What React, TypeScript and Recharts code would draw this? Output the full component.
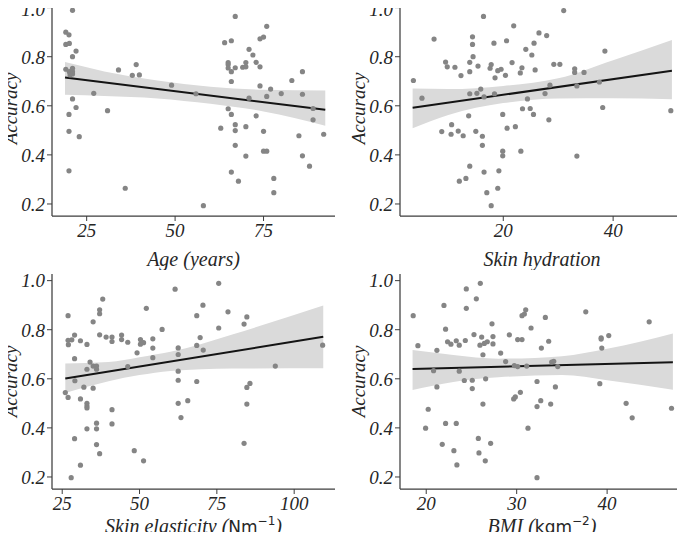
import React from 'react';
import { Area, ComposedChart, Line, Scatter, XAxis, YAxis } from 'recharts';

type Pt = [number, number];

// shared y axis
const accuracyTicks = [0.2, 0.4, 0.6, 0.8, 1.0];
const accuracyDomain: [number, number] = [0.151, 1.027];

// Age (years)
const agePoints: Pt[] = [
  [19.1, 0.9], [20.0, 0.889], [19.1, 0.85], [20.1, 0.854], [21.0, 0.989], [22.0, 0.823], [21.0, 0.8],
  [19.1, 0.749], [20.1, 0.739], [21.0, 0.753], [21.0, 0.739], [21.0, 0.73], [20.3, 0.726], [21.0, 0.628],
  [22.0, 0.593], [20.0, 0.565], [20.0, 0.496], [22.9, 0.474], [20.0, 0.335], [27.0, 0.651], [30.9, 0.58],
  [34.0, 0.746], [35.9, 0.264], [37.9, 0.724], [39.0, 0.768], [39.9, 0.726], [49.0, 0.684], [55.9, 0.649],
  [58.0, 0.193], [62.9, 0.509], [64.0, 0.857], [65.0, 0.776], [65.0, 0.768], [65.0, 0.754], [65.0, 0.588],
  [65.9, 0.865], [65.9, 0.739], [65.9, 0.699], [65.9, 0.565], [65.9, 0.33], [67.0, 0.964], [67.0, 0.755],
  [67.0, 0.523], [67.0, 0.499], [67.0, 0.439], [67.9, 0.293], [69.1, 0.757], [70.0, 0.759], [70.0, 0.776],
  [70.0, 0.515], [70.0, 0.395], [70.9, 0.83], [70.9, 0.631], [72.0, 0.807], [72.9, 0.777], [72.9, 0.559],
  [74.0, 0.873], [74.0, 0.759], [74.0, 0.681], [75.0, 0.88], [75.0, 0.496], [75.0, 0.415], [75.9, 0.924],
  [75.9, 0.638], [75.9, 0.415], [77.0, 0.668], [77.9, 0.304], [77.9, 0.246], [80.0, 0.65], [83.0, 0.703],
  [85.0, 0.478], [86.0, 0.739], [86.0, 0.647], [86.0, 0.396], [88.0, 0.354], [89.0, 0.589], [89.0, 0.543],
  [92.0, 0.484],
];
const ageTicks = [25, 50, 75];
const ageFit: Pt[] = [[18.87, 0.715], [92.45, 0.584]];
const ageBandX = [18.87, 30, 45, 60, 75, 92.45];
const ageBandLo = [0.645, 0.64, 0.63, 0.608, 0.577, 0.519];
const ageBandHi = [0.778, 0.74, 0.703, 0.678, 0.665, 0.662];

// Skin hydration
const hydrationPoints: Pt[] = [
  [3.64, 0.703], [5.2, 0.631], [7.4, 0.872], [8.8, 0.495], [9.5, 0.778], [9.8, 0.759], [10.6, 0.523],
  [11.2, 0.757], [10.5, 0.484], [11.8, 0.497], [12.0, 0.293], [12.3, 0.723], [12.7, 0.478], [13.2, 0.304],
  [13.7, 0.559], [13.9, 0.649], [13.9, 0.739], [13.9, 0.777], [13.9, 0.354], [14.4, 0.881], [14.4, 0.85],
  [14.5, 0.8], [15.0, 0.496], [15.2, 0.651], [15.4, 0.762], [15.9, 0.668], [16.2, 0.476], [16.2, 0.439],
  [16.4, 0.964], [16.5, 0.636], [16.5, 0.33], [17.0, 0.246], [17.6, 0.753], [17.8, 0.768], [17.8, 0.193],
  [18.3, 0.855], [18.5, 0.714], [18.4, 0.649], [19.0, 0.743], [19.2, 0.335], [19.0, 0.264], [19.6, 0.749],
  [19.9, 0.415], [19.9, 0.396], [19.9, 0.565], [20.4, 0.724], [20.6, 0.865], [20.7, 0.509], [21.6, 0.776],
  [21.9, 0.926], [22.2, 0.515], [23.1, 0.734], [23.2, 0.415], [23.4, 0.755], [23.5, 0.588], [24.1, 0.83],
  [24.4, 0.628], [24.9, 0.589], [25.2, 0.807], [25.5, 0.565], [25.6, 0.855], [25.8, 0.746], [26.5, 0.897],
  [27.6, 0.65], [27.9, 0.886], [28.3, 0.543], [28.5, 0.684], [29.2, 0.769], [30.3, 0.769], [31.0, 0.988],
  [33.0, 0.751], [33.0, 0.736], [33.4, 0.681], [33.4, 0.395], [34.7, 0.736], [37.5, 0.697], [38.1, 0.593],
  [38.5, 0.823], [50.5, 0.58],
];
const hydrationTicks = [20, 40];
const hydrationFit: Pt[] = [[3.5, 0.592], [50.7, 0.743]];
const hydrationBandX = [3.5, 10, 20, 30, 40, 50.7];
const hydrationBandLo = [0.509, 0.563, 0.611, 0.63, 0.631, 0.627];
const hydrationBandHi = [0.67, 0.668, 0.681, 0.712, 0.786, 0.868];

// Skin elasticity
const elasticityPoints: Pt[] = [
  [26.0, 0.544], [26.9, 0.857], [26.9, 0.757], [27.0, 0.739], [26.9, 0.524], [27.9, 0.197], [28.1, 0.759],
  [29.0, 0.778], [29.0, 0.682], [29.1, 0.592], [29.0, 0.356], [30.9, 0.755], [30.9, 0.518], [30.9, 0.248],
  [32.0, 0.566], [33.0, 0.74], [33.0, 0.639], [33.0, 0.5], [33.0, 0.489], [33.0, 0.481], [33.0, 0.396],
  [34.0, 0.668], [35.0, 0.832], [35.0, 0.652], [35.0, 0.562], [36.1, 0.652], [36.1, 0.639], [36.1, 0.419],
  [36.1, 0.396], [36.1, 0.332], [37.1, 0.881], [37.1, 0.865], [37.1, 0.779], [37.1, 0.295], [38.1, 0.925],
  [39.2, 0.77], [41.1, 0.77], [41.1, 0.752], [41.1, 0.474], [41.1, 0.416], [44.2, 0.778], [44.2, 0.76],
  [46.2, 0.749], [46.2, 0.65], [48.3, 0.307], [49.2, 0.706], [50.3, 0.76], [50.3, 0.741], [51.3, 0.747],
  [51.3, 0.266], [52.2, 0.887], [54.3, 0.763], [54.3, 0.725], [54.3, 0.686], [57.3, 0.801], [61.5, 0.965],
  [62.5, 0.726], [62.5, 0.699], [62.5, 0.631], [62.5, 0.594], [62.5, 0.5], [63.4, 0.442], [65.6, 0.511],
  [68.5, 0.857], [68.5, 0.736], [68.5, 0.589], [69.6, 0.768], [70.5, 0.9], [70.6, 0.717], [75.6, 0.989],
  [75.6, 0.807], [78.6, 0.873], [83.8, 0.823], [84.7, 0.565], [84.7, 0.497], [83.8, 0.337], [84.7, 0.852],
  [85.7, 0.581], [93.9, 0.652], [109.2, 0.737],
];
const elasticityTicks = [25, 50, 75, 100];
const elasticityFit: Pt[] = [[26.0, 0.601], [109.4, 0.771]];
const elasticityBandX = [26, 40, 50, 60, 80, 109.4];
const elasticityBandLo = [0.542, 0.59, 0.615, 0.632, 0.642, 0.643];
const elasticityBandHi = [0.662, 0.668, 0.688, 0.71, 0.781, 0.899];

// BMI
const bmiPoints: Pt[] = [
  [18.56, 0.857], [19.08, 0.735], [19.93, 0.399], [20.22, 0.476], [20.81, 0.633], [21.18, 0.716], [21.18, 0.567],
  [21.77, 0.333], [21.96, 0.899], [22.14, 0.802], [22.14, 0.418], [22.36, 0.751], [22.73, 0.741], [23.06, 0.307],
  [23.32, 0.755], [23.32, 0.418], [23.39, 0.249], [23.65, 0.737], [23.65, 0.631], [24.21, 0.593], [24.32, 0.756],
  [24.43, 0.966], [24.43, 0.887], [25.09, 0.594], [25.09, 0.56], [25.28, 0.78], [25.54, 0.926], [25.76, 0.357],
  [25.83, 0.298], [25.98, 0.989], [25.94, 0.737], [26.13, 0.77], [26.27, 0.497], [26.27, 0.698], [26.42, 0.744],
  [26.53, 0.266], [26.57, 0.6], [26.75, 0.751], [27.27, 0.824], [27.38, 0.772], [27.38, 0.742], [27.12, 0.337],
  [28.23, 0.705], [28.78, 0.67], [29.19, 0.779], [29.67, 0.518], [29.74, 0.654], [29.85, 0.526], [30.11, 0.65],
  [30.11, 0.76], [30.41, 0.545], [30.59, 0.76], [30.59, 0.857], [30.85, 0.864], [31.0, 0.881], [31.11, 0.652],
  [31.25, 0.399], [31.59, 0.807], [32.25, 0.589], [32.25, 0.487], [32.25, 0.197], [32.66, 0.511], [32.73, 0.725],
  [33.17, 0.85], [33.54, 0.753], [33.76, 0.497], [33.87, 0.668], [34.1, 0.671], [34.28, 0.567], [34.54, 0.65],
  [37.64, 0.873], [39.19, 0.58], [39.34, 0.767], [39.34, 0.762], [39.41, 0.725], [40.18, 0.776], [42.1, 0.5],
  [42.77, 0.441], [44.65, 0.832], [47.12, 0.48],
];
const bmiTicks = [20, 30, 40];
const bmiFit: Pt[] = [[18.49, 0.64], [47.27, 0.667]];
const bmiBandX = [18.49, 23, 28, 35, 40, 47.27];
const bmiBandLo = [0.554, 0.587, 0.606, 0.615, 0.594, 0.555];
const bmiBandHi = [0.717, 0.697, 0.682, 0.692, 0.722, 0.785];

const SERIF =
  "'Liberation Serif', 'Nimbus Roman', 'Nimbus Roman No9 L', 'FreeSerif', 'Noto Serif', 'Tinos', 'Times New Roman', Times, 'DejaVu Serif', serif";
const SANS = "'DejaVu Sans', sans-serif";
const INK = '#262626';
const FRAME = '#3d3d3d';
const serifItalic = { fontFamily: SERIF, fontStyle: 'italic' as const, fontSize: 19 };

interface Seg {
  text: string;
  sans?: boolean;
  sup?: boolean;
}

const AxisTitle = (props: any) => {
  const { viewBox, segments, baseline } = props;
  const cx = viewBox.x + viewBox.width / 2;
  let lifted = false;
  return (
    <text x={cx} y={viewBox.y + baseline} textAnchor="middle" fill={INK} style={{ ...serifItalic, fontSize: 20 }}>
      {segments.map((s: Seg, i: number) => {
        let dy = 0;
        if (s.sup && !lifted) { dy = -8; lifted = true; }
        else if (!s.sup && lifted) { dy = 8; lifted = false; }
        const style = s.sans
          ? { fontFamily: SANS, fontStyle: 'normal' as const, fontSize: s.sup ? 12 : 17 }
          : { ...serifItalic, fontSize: 20 };
        return (
          <tspan key={i} dy={dy} style={style}>
            {s.text}
          </tspan>
        );
      })}
    </text>
  );
};

const YTitle = (props: any) => {
  const { viewBox } = props;
  const x = viewBox.x + viewBox.width - 35;
  const y = viewBox.y + viewBox.height / 2;
  return (
    <text x={x} y={y} transform={`rotate(-90, ${x}, ${y})`} textAnchor="middle" fill={INK} style={serifItalic}>
      Accuracy
    </text>
  );
};

const XTick = (props: any) => (
  <text x={props.x} y={props.y} dy="0.71em" textAnchor="middle" fill={INK} style={serifItalic}>
    {props.payload.value}
  </text>
);

const YTick = (props: any) => (
  <text x={props.x} y={props.y} dy="0.36em" textAnchor="end" fill={INK} style={serifItalic}>
    {Number(props.payload.value).toFixed(1)}
  </text>
);

const Dot = (props: any) => <circle cx={props.cx} cy={props.cy} r={2.6} fill="#858585" />;

interface PanelProps {
  left: number;
  top: number;
  width: number;
  yAxisWidth: number;
  marginTop: number;
  marginRight: number;
  xAxisHeight: number;
  titleBaseline: number;
  points: Pt[];
  fit: Pt[];
  bandX: number[];
  bandLo: number[];
  bandHi: number[];
  xDomain: [number, number];
  xTicks: number[];
  title: Seg[];
}

const Panel = (p: PanelProps) => {
  const scatter = p.points.map(([x, y]) => ({ x, y }));
  const line = p.fit.map(([x, y]) => ({ x, y }));
  const band = p.bandX.map((x, i) => ({ x, range: [p.bandLo[i], p.bandHi[i]] }));
  return (
    <div style={{ position: 'absolute', left: p.left, top: p.top }}>
      <ComposedChart width={p.width} height={270} margin={{ top: p.marginTop, right: p.marginRight, bottom: 0, left: 0 }}>
        <XAxis
          dataKey="x"
          type="number"
          domain={p.xDomain}
          allowDataOverflow
          ticks={p.xTicks}
          height={p.xAxisHeight}
          tickSize={5}
          tickMargin={3}
          tick={<XTick />}
          axisLine={{ stroke: FRAME, strokeWidth: 1.25 }}
          tickLine={{ stroke: FRAME }}
          label={<AxisTitle segments={p.title} baseline={p.titleBaseline} />}
        />
        <XAxis xAxisId="top" orientation="top" type="number" domain={p.xDomain} allowDataOverflow height={0} tick={false} tickLine={false} axisLine={{ stroke: FRAME, strokeWidth: 1.25 }} />
        <YAxis
          dataKey="y"
          type="number"
          domain={accuracyDomain}
          allowDataOverflow
          ticks={accuracyTicks}
          width={p.yAxisWidth}
          tickSize={5}
          tickMargin={2}
          tick={<YTick />}
          axisLine={{ stroke: FRAME, strokeWidth: 1.25 }}
          tickLine={{ stroke: FRAME }}
          label={<YTitle />}
        />
        <YAxis yAxisId="right" orientation="right" type="number" domain={accuracyDomain} allowDataOverflow width={0} tick={false} tickLine={false} axisLine={{ stroke: FRAME, strokeWidth: 1.25 }} />
        <Area data={band} dataKey="range" type="monotone" stroke="none" fill="#dadada" fillOpacity={1} isAnimationActive={false} />
        <Scatter data={scatter} shape={<Dot />} isAnimationActive={false} />
        <Line data={line} dataKey="y" type="linear" stroke="#141414" strokeWidth={2} dot={false} isAnimationActive={false} />
      </ComposedChart>
    </div>
  );
};

export default function App() {
  return (
    <div style={{ position: 'relative', width: 685, height: 540, margin: -8, background: '#fff' }}>
      <Panel
        left={0} top={0} width={340} yAxisWidth={52} marginTop={1} marginRight={5} xAxisHeight={54} titleBaseline={50}
        points={agePoints} fit={ageFit} bandX={ageBandX} bandLo={ageBandLo} bandHi={ageBandHi}
        xDomain={[15.2, 95.2]} xTicks={ageTicks} title={[{ text: 'Age (years)' }]}
      />
      <Panel
        left={340} top={0} width={345} yAxisWidth={60} marginTop={1} marginRight={1} xAxisHeight={54} titleBaseline={50}
        points={hydrationPoints} fit={hydrationFit} bandX={hydrationBandX} bandLo={hydrationBandLo} bandHi={hydrationBandHi}
        xDomain={[1.2, 52.9]} xTicks={hydrationTicks} title={[{ text: 'Skin hydration' }]}
      />
      <Panel
        left={0} top={270} width={340} yAxisWidth={52} marginTop={4} marginRight={5} xAxisHeight={51} titleBaseline={44}
        points={elasticityPoints} fit={elasticityFit} bandX={elasticityBandX} bandLo={elasticityBandLo} bandHi={elasticityBandHi}
        xDomain={[21.7, 113.2]} xTicks={elasticityTicks}
        title={[{ text: 'Skin elasticity (' }, { text: 'Nm', sans: true }, { text: '\u22121', sans: true, sup: true }, { text: ')' }]}
      />
      <Panel
        left={340} top={270} width={345} yAxisWidth={60} marginTop={4} marginRight={1} xAxisHeight={51} titleBaseline={44}
        points={bmiPoints} fit={bmiFit} bandX={bmiBandX} bandLo={bmiBandLo} bandHi={bmiBandHi}
        xDomain={[17.1, 48.5]} xTicks={bmiTicks}
        title={[{ text: 'BMI (' }, { text: 'kgm', sans: true }, { text: '\u22122', sans: true, sup: true }, { text: ')' }]}
      />
    </div>
  );
}
